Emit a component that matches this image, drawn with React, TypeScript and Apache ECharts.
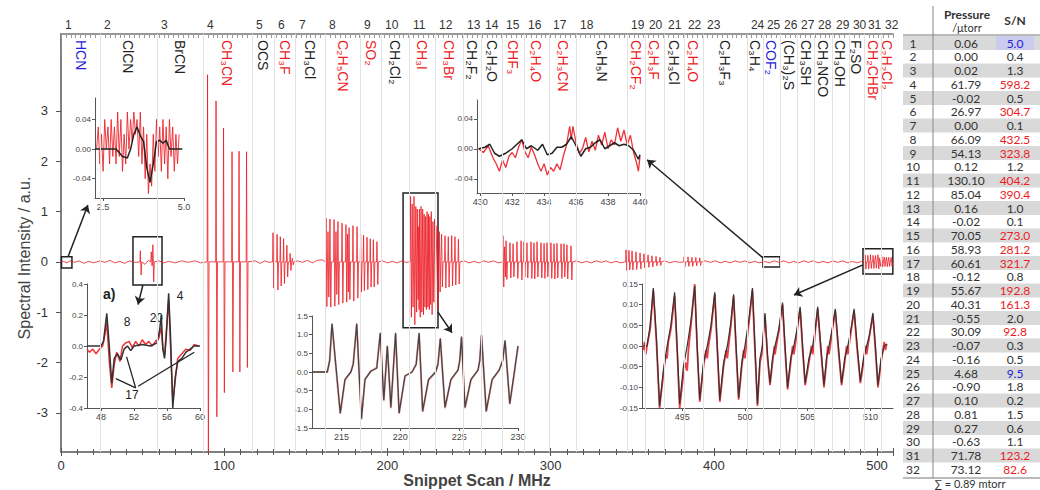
import React, { useEffect, useRef } from 'react';
import * as echarts from 'echarts';

// ---------------- data ----------------
const snippetStarts = [0, 23.9, 58.8, 87.0, 117.0, 130.5, 143.4, 161.8, 183.2, 196.1, 213.2, 229.2, 246.3, 257.4, 270.2, 283.7, 299.0, 315.6, 346.8, 357.8, 369.5, 381.7, 393.4, 420.3, 430.1, 440.6, 451.0, 461.4, 472.4, 482.8, 492.0, 502.5];
const scanEnd = 509.8;
const molecules = ['HCN', 'ClCN', 'BrCN', 'CH₃CN', 'OCS', 'CH₃F', 'CH₃Cl', 'C₂H₅CN', 'SO₂', 'CH₂Cl₂', 'CH₃I', 'CH₃Br', 'CH₂F₂', 'C₂H₂O', 'CHF₃', 'C₂H₄O', 'C₂H₃CN', 'C₅H₅N', 'CH₂CF₂', 'C₂H₃F', 'C₂H₃Cl', 'C₂H₄O', 'C₂H₃F₃', 'C₃H₄', 'COF₂', '(CH₃)₂S', 'CH₃SH', 'CH₃NCO', 'CH₃OH', 'F₂SO', 'CH₂CHBr', 'C₂H₂Cl₂'];
const moleculeClass = ['b', 'k', 'k', 'r', 'k', 'r', 'k', 'r', 'r', 'k', 'r', 'r', 'k', 'k', 'r', 'r', 'r', 'k', 'r', 'r', 'k', 'r', 'k', 'k', 'b', 'k', 'k', 'k', 'k', 'k', 'r', 'r'];
const pressures = ['0.06', '0.00', '0.02', '61.79', '-0.02', '26.97', '0.00', '66.09', '54.13', '0.12', '130.10', '85.04', '0.16', '-0.02', '70.05', '58.93', '60.61', '-0.12', '55.67', '40.31', '-0.55', '30.09', '-0.07', '-0.16', '4.68', '-0.90', '0.10', '0.81', '0.27', '-0.63', '71.78', '73.12'];
const snRatios = ['5.0', '0.4', '1.3', '598.2', '0.5', '304.7', '0.1', '432.5', '323.8', '1.2', '404.2', '390.4', '1.0', '0.1', '273.0', '281.2', '321.7', '0.8', '192.8', '161.3', '2.0', '92.8', '0.3', '0.5', '9.5', '1.8', '0.2', '1.5', '0.6', '1.1', '123.2', '82.6'];
const pressureSum = '∑ = 0.89 mtorr';

const xTicksMain = [0, 100, 200, 300, 400, 500];
const yTicksMain = [-3, -2, -1, 0, 1, 2, 3];

// peaks of the main spectrum: [MHz, positive lobe, negative lobe]
const peaksClCN = [[48.6, 0.22, -0.26], [55.3, 0.2, -0.08], [56.3, 0.34, -0.4]];
const peaksCH3CN = [[89.8, 3.72, -4.2], [95.0, 3.2, -3.08], [99.6, 2.66, -2.6], [104.8, 2.19, -2.19], [109.1, 2.2, -2.19], [113.7, 2.19, -2.1]];
const peaksCH3F = [[129.9, 0.58, -0.52], [132.4, 0.55, -0.56], [134.4, 0.5, -0.48], [136.4, 0.46, -0.43], [138.4, 0.33, -0.3], [140.4, 0.17, -0.17], [141.8, 0.07, -0.06]];
const peaksC2H5CNSO2 = [[162.4, 0.87, -0.89], [163.6, 0.6, -0.7], [164.8, 0.85, -0.9], [167.3, 0.84, -0.88], [168.5, 0.6, -0.65], [169.7, 0.8, -0.85], [172.2, 0.77, -0.82], [174.6, 0.74, -0.8], [175.6, 0.55, -0.6], [176.5, 0.68, -0.75], [178.9, 0.72, -0.78], [181.4, 0.7, -0.72], [183.6, 0.56, -0.6], [185.4, 0.53, -0.57], [187.5, 0.49, -0.55], [189.5, 0.46, -0.5], [191.4, 0.44, -0.5], [193.6, 0.4, -0.45]];
const peaksCH3ICH3Br = [[214.2, 1.3, -1.1], [215.2, 1.15, -0.9], [216.3, 1.3, -1.25], [217.4, 1.1, -1.0], [218.3, 1.05, -0.75], [218.9, 0.7, -0.95], [219.6, 1.05, -1.1], [220.6, 1.1, -1.0], [221.6, 1.05, -1.05], [222.5, 0.95, -0.9], [223.4, 0.9, -0.95], [224.3, 1.0, -0.9], [225.2, 0.95, -0.95], [226.0, 0.9, -0.85], [226.9, 1.0, -1.05], [227.9, 0.8, -0.8], [228.9, 0.85, -0.85], [230.4, 0.72, -0.95], [231.8, 0.6, -0.6], [233.2, 0.55, -0.5], [235.3, 0.52, -0.52], [237.3, 0.5, -0.5], [239.4, 0.52, -0.48], [241.4, 0.5, -0.46], [243.5, 0.45, -0.44]];
const peaks15to17 = [[270.8, 0.52, -0.5], [271.8, 0.3, -0.3], [272.7, 0.42, -0.35], [275.1, 0.38, -0.32], [277.0, 0.36, -0.3], [279.4, 0.4, -0.33], [281.9, 0.42, -0.36], [283.7, 0.4, -0.3], [285.5, 0.38, -0.32], [288.0, 0.4, -0.33], [289.8, 0.38, -0.34], [291.7, 0.4, -0.3], [294.1, 0.38, -0.32], [296.0, 0.37, -0.33], [297.8, 0.38, -0.3], [300.2, 0.38, -0.33], [302.1, 0.36, -0.34], [303.9, 0.37, -0.32], [306.4, 0.36, -0.33], [308.2, 0.36, -0.3], [310.0, 0.34, -0.34], [312.5, 0.32, -0.36]];
const peaks19to22 = [[346.2, 0.24, -0.17], [348.0, 0.23, -0.16], [349.9, 0.22, -0.16], [352.3, 0.2, -0.15], [354.8, 0.18, -0.14], [357.2, 0.16, -0.12], [359.7, 0.14, -0.11], [362.1, 0.12, -0.1], [364.6, 0.11, -0.08], [367.0, 0.09, -0.07], [381.8, 0.1, -0.1], [384.2, 0.1, -0.09], [386.6, 0.09, -0.09], [389.0, 0.09, -0.08], [391.4, 0.08, -0.07]];
const peaks31to32 = [[492.7, 0.14, -0.145], [494.4, 0.13, -0.14], [496.0, 0.145, -0.13], [497.6, 0.13, -0.13], [499.1, 0.125, -0.125], [500.6, 0.14, -0.14], [501.6, 0.08, -0.09], [503.0, 0.105, -0.1], [504.4, 0.095, -0.09], [505.8, 0.095, -0.095], [507.2, 0.09, -0.09], [508.7, 0.09, -0.085]];
const baselineNoise = [[1.5, 0.01], [3.5, -0.02], [5.5, 0.02], [8, -0.01], [11, 0.02], [14, -0.03], [17, 0.01], [20, -0.02], [24, 0.02], [27, -0.01], [30, 0.03], [33, -0.02], [36, 0.01], [39, -0.03], [42, 0.02], [45, -0.01], [51.5, -0.05], [53.5, 0.03], [60, 0.02], [63, -0.02], [66, 0.01], [70, -0.02], [74, 0.02], [78, -0.01], [82, 0.02], [85.5, -0.02], [119, 0.02], [122, -0.03], [125, 0.02], [127.5, -0.01], [145, 0.02], [148, -0.01], [151, 0.03], [154, -0.02], [157, 0.03], [160, 0.04], [197, 0.02], [200, -0.02], [203, 0.01], [206, -0.02], [209, 0.02], [211.5, -0.01], [247, 0.02], [250, -0.02], [253, 0.01], [256, -0.02], [259, 0.02], [262, -0.01], [265, 0.02], [268, -0.02], [316, 0.02], [319, -0.02], [322, 0.01], [325, -0.02], [328, 0.02], [331, -0.01], [334, 0.02], [337, -0.02], [340, 0.01], [343, -0.02], [370, 0.02], [373, -0.02], [376, 0.01], [379, -0.01], [395, 0.02], [398, -0.01], [401, 0.02], [404, -0.02], [407, 0.01], [410, -0.02], [413, 0.02], [416, -0.01], [419, 0.02], [422, -0.02], [425, 0.01], [428, -0.02], [431, 0.01], [434, -0.02], [437, 0.02], [440, -0.01], [443, 0.02], [446, -0.02], [449, 0.01], [452, -0.02], [455, 0.02], [458, -0.01], [461, 0.02], [464, -0.02], [467, 0.01], [470, -0.02], [473, 0.02], [476, -0.01], [479, 0.02], [482, -0.02], [485, 0.01], [488, -0.02], [490.5, 0.01]];

// zoom boxes [x1, y1, x2, y2] and arrows [x1, y1, x2, y2] in main-plot units
const zoomBoxes = [[0.3, 0.1, 6.7, -0.12], [44.1, 0.5, 61.9, -0.46], [209.6, 1.37, 231.0, -1.31], [430.1, 0.1, 440.6, -0.1], [491.4, 0.26, 509.7, -0.24]];
const zoomArrows = [[4.3, 0.1, 16.5, 1.13], [50.2, -0.46, 47.2, -0.85], [231.0, -1.0, 239.6, -1.41], [430.1, 0.08, 359.1, 2.03], [491.4, -0.06, 449.1, -0.66]];

// inset 1: HCN 2.5-5.0 MHz
const hcnRed = [[2.3, 0.0], [2.35, 0.03], [2.4, -0.02], [2.45, 0.02], [2.5, -0.03], [2.55, 0.04], [2.6, 0.0], [2.65, 0.03], [2.7, -0.02], [2.75, 0.04], [2.8, -0.01], [2.85, 0.03], [2.9, -0.02], [2.95, 0.05], [3.0, -0.01], [3.05, 0.04], [3.1, -0.03], [3.15, 0.02], [3.2, -0.02], [3.25, 0.05], [3.3, 0.0], [3.35, 0.04], [3.4, 0.01], [3.45, 0.05], [3.5, 0.02], [3.55, 0.04], [3.6, -0.01], [3.65, 0.05], [3.7, -0.02], [3.75, 0.03], [3.8, -0.04], [3.85, 0.02], [3.9, -0.06], [3.95, -0.02], [4.0, -0.05], [4.05, 0.02], [4.1, -0.03], [4.15, 0.04], [4.2, -0.01], [4.25, 0.03], [4.3, -0.03], [4.35, 0.04], [4.4, -0.02], [4.45, 0.03], [4.5, -0.04], [4.55, 0.04], [4.6, -0.01], [4.65, 0.03], [4.7, -0.03], [4.75, 0.02], [4.8, -0.02], [4.85, 0.02]];
const hcnFit = [[2.25, 0], [2.9, 0], [3.0, -0.005], [3.1, -0.01], [3.25, -0.012], [3.35, 0.0], [3.45, 0.02], [3.55, 0.03], [3.65, 0.018], [3.75, 0.01], [3.85, -0.025], [3.95, -0.045], [4.05, -0.02], [4.15, 0.01], [4.25, 0.012], [4.35, 0.008], [4.45, 0.012], [4.55, 0.0], [4.95, 0.0]];

// inset 2: a) 48-60 MHz
const aRed = [[46.3, -0.02], [46.6, -0.04], [47.0, -0.02], [47.4, -0.05], [47.8, -0.02], [48.2, 0.0], [48.5, 0.08], [48.7, 0.15], [49.0, -0.1], [49.3, -0.27], [49.6, -0.12], [49.9, -0.04], [50.3, -0.1], [50.6, 0.0], [51.0, 0.02], [51.4, 0.03], [51.8, -0.01], [52.2, 0.03], [52.6, 0.0], [53.0, 0.04], [53.4, 0.01], [53.8, 0.03], [54.2, 0.0], [54.6, 0.03], [55.0, 0.05], [55.3, 0.12], [55.5, -0.02], [55.7, -0.06], [56.2, 0.3], [56.7, -0.36], [57.3, -0.08], [57.8, -0.05], [58.3, -0.02], [58.8, -0.03], [59.3, 0.01], [59.8, 0.0]];
const aFit = [[46.3, 0], [48.0, 0], [48.3, 0.03], [48.7, 0.21], [49.0, 0.0], [49.3, -0.24], [49.6, -0.08], [50.0, -0.05], [50.4, -0.09], [50.8, -0.02], [51.2, 0.0], [51.6, -0.03], [52.0, 0.0], [53, 0.01], [54, 0.0], [54.8, 0.02], [55.1, 0.1], [55.3, 0.2], [55.5, -0.02], [55.7, -0.08], [55.9, 0.05], [56.2, 0.34], [56.4, 0.1], [56.7, -0.4], [57.0, -0.2], [57.3, -0.1], [57.8, -0.08], [58.3, -0.04], [58.8, -0.02], [59.3, 0.0], [60, 0.0]];
const aPointers = [[52.2, -0.27, 49.8, -0.21], [52.2, -0.27, 51.1, -0.07], [52.5, -0.26, 59.3, -0.04]];

// inset 3: CH3I 215-230 MHz
const ch3iFit = [[212.5, 0], [213.8, 0], [214.0, 0.3], [214.2, 1.3], [214.55, 0.1], [214.9, -1.1], [215.3, -0.2], [215.8, 0], [216.0, 0.2], [216.3, 1.3], [216.5, 0], [216.7, -1.25], [217.0, -0.2], [217.5, 0.02], [218.0, 0.1], [218.3, 1.05], [218.6, -0.75], [218.9, 0.7], [219.2, -0.95], [219.6, 1.05], [219.9, -1.1], [220.4, -0.1], [221.0, 0.0], [221.35, 0.2], [221.6, 1.05], [221.9, -1.05], [222.4, -0.2], [223.0, 0.0], [223.2, 0.2], [223.4, 0.9], [223.8, -0.95], [224.3, -0.2], [224.9, 0.05], [225.05, 0.3], [225.2, 0.95], [225.5, -0.95], [226.0, -0.2], [226.6, 0.05], [226.75, 0.3], [226.9, 1.0], [227.3, -1.05], [227.8, -0.2], [228.4, 0.05], [228.7, 0.3], [228.9, 0.85], [229.3, -0.85], [229.6, -0.2], [230.0, 0.7]];
const ch3iRed = [[212.5, 0], [213.8, 0], [214.0, 0.32], [214.2, 1.28], [214.55, 0.05], [214.9, -1.12], [215.3, -0.22], [215.8, 0], [216.0, 0.22], [216.3, 1.27], [216.5, -0.05], [216.7, -1.27], [217.0, -0.2], [217.5, 0.03], [218.0, 0.12], [218.3, 1.02], [218.6, -0.78], [218.9, 0.68], [219.2, -0.97], [219.6, 1.02], [219.9, -1.12], [220.4, -0.12], [221.0, 0.0], [221.35, 0.22], [221.6, 1.02], [221.9, -1.07], [222.4, -0.22], [223.0, 0.0], [223.2, 0.22], [223.4, 0.88], [223.8, -0.97], [224.3, -0.22], [224.9, 0.05], [225.05, 0.32], [225.2, 0.92], [225.5, -0.97], [226.0, -0.22], [226.6, 0.05], [226.75, 0.32], [226.9, 0.98], [227.3, -1.07], [227.8, -0.22], [228.4, 0.05], [228.7, 0.32], [228.9, 0.83], [229.3, -0.87], [229.6, -0.22], [230.0, 0.68]];

// inset 4: COF2 430-440 MHz
const cof2Red = [[429.9, 0.0], [430.2, -0.005], [430.5, 0.004], [430.8, -0.012], [431.0, -0.02], [431.2, -0.03], [431.4, -0.015], [431.6, -0.025], [431.8, -0.01], [432.0, -0.005], [432.2, -0.012], [432.4, 0.002], [432.6, 0.012], [432.8, -0.004], [433.0, -0.012], [433.2, 0.002], [433.4, -0.008], [433.6, -0.02], [433.8, -0.03], [434.0, -0.02], [434.2, -0.035], [434.4, -0.025], [434.6, -0.03], [434.8, -0.02], [435.0, -0.028], [435.2, -0.01], [435.4, 0.005], [435.6, 0.03], [435.7, 0.012], [435.8, 0.03], [436.0, 0.008], [436.2, -0.006], [436.4, 0.0], [436.6, 0.015], [436.8, -0.004], [437.0, 0.01], [437.2, -0.002], [437.4, 0.018], [437.6, 0.005], [437.8, 0.022], [438.0, 0.0], [438.2, 0.012], [438.4, 0.005], [438.6, 0.028], [438.8, 0.01], [439.0, 0.025], [439.2, 0.005], [439.4, 0.018], [439.6, -0.005], [439.8, -0.02], [439.9, -0.03], [440.0, -0.01]];
const cof2Fit = [[429.9, 0.0], [430.3, 0.002], [430.6, 0.006], [430.9, -0.006], [431.2, -0.01], [431.6, -0.006], [432.0, 0.0], [432.3, 0.006], [432.6, 0.012], [432.9, 0.0], [433.2, 0.004], [433.6, -0.002], [433.9, 0.006], [434.2, -0.008], [434.5, -0.006], [434.8, 0.002], [435.1, 0.002], [435.4, 0.006], [435.7, 0.016], [436.0, 0.004], [436.3, -0.01], [436.6, 0.0], [436.9, 0.002], [437.2, 0.008], [437.5, 0.012], [437.8, 0.0], [438.1, 0.004], [438.4, 0.008], [438.7, 0.004], [439.0, 0.006], [439.3, 0.004], [439.6, -0.002], [439.9, -0.014], [440.0, -0.008]];

// inset 5: 493-511 MHz
const endFit = [[491.9, 0.0], [492.2, 0.0], [492.45, 0.05], [492.7, 0.14], [492.95, 0.02], [493.2, -0.145], [493.5, -0.06], [493.8, 0.0], [494.1, 0.05], [494.4, 0.13], [494.6, 0.0], [494.8, -0.14], [495.1, -0.05], [495.4, 0.0], [495.7, 0.06], [496.0, 0.145], [496.2, 0.0], [496.4, -0.13], [496.7, -0.04], [497.0, 0.0], [497.3, 0.05], [497.6, 0.13], [497.8, 0.0], [498.0, -0.13], [498.3, -0.04], [498.6, 0.0], [498.85, 0.05], [499.1, 0.125], [499.3, 0.0], [499.5, -0.125], [499.75, -0.04], [500.0, 0.0], [500.3, 0.06], [500.6, 0.14], [500.8, 0.0], [501.0, -0.14], [501.2, -0.03], [501.4, 0.0], [501.6, 0.08], [501.8, -0.02], [502.0, -0.09], [502.2, -0.03], [502.4, 0.0], [502.7, 0.04], [503.0, 0.105], [503.2, 0.0], [503.4, -0.1], [503.65, -0.03], [503.9, 0.0], [504.15, 0.04], [504.4, 0.095], [504.6, 0.0], [504.8, -0.09], [505.1, -0.03], [505.4, 0.0], [505.6, 0.04], [505.8, 0.095], [506.05, 0.0], [506.3, -0.095], [506.5, -0.03], [506.7, 0.0], [506.95, 0.04], [507.2, 0.09], [507.45, 0.0], [507.7, -0.09], [507.95, -0.03], [508.2, 0.0], [508.45, 0.04], [508.7, 0.09], [508.95, 0.0], [509.2, -0.085], [509.45, -0.03], [509.7, 0.0], [509.95, 0.03], [510.2, 0.08], [510.4, 0.0], [510.6, -0.095], [510.85, -0.03], [511.1, 0.0], [511.3, 0.005]];
const endRed = [[491.9, -0.01], [492.0, 0.01], [492.1, -0.02], [492.2, 0.0], [492.45, 0.04], [492.7, 0.135], [492.95, 0.01], [493.2, -0.15], [493.5, -0.07], [493.7, -0.02], [493.8, -0.03], [493.9, 0.01], [494.1, 0.04], [494.4, 0.12], [494.6, -0.01], [494.8, -0.15], [495.1, -0.07], [495.3, -0.04], [495.4, -0.06], [495.5, -0.01], [495.7, 0.05], [496.0, 0.15], [496.2, -0.01], [496.4, -0.135], [496.7, -0.05], [496.9, -0.01], [497.0, -0.03], [497.1, 0.0], [497.3, 0.04], [497.6, 0.125], [497.8, -0.01], [498.0, -0.135], [498.3, -0.05], [498.5, -0.01], [498.6, -0.03], [498.7, 0.0], [498.85, 0.04], [499.1, 0.12], [499.3, -0.01], [499.5, -0.13], [499.75, -0.05], [499.9, -0.01], [500.0, -0.03], [500.1, 0.0], [500.3, 0.05], [500.6, 0.135], [500.8, -0.01], [501.0, -0.145], [501.2, -0.04], [501.35, -0.02], [501.4, 0.0], [501.6, 0.075], [501.8, -0.03], [502.0, -0.095], [502.2, -0.04], [502.35, 0.0], [502.4, -0.02], [502.5, 0.0], [502.7, 0.035], [503.0, 0.1], [503.2, -0.01], [503.4, -0.105], [503.65, -0.04], [503.8, 0.0], [503.9, -0.02], [504.0, 0.0], [504.15, 0.035], [504.4, 0.09], [504.6, -0.01], [504.8, -0.095], [505.1, -0.04], [505.3, 0.0], [505.4, -0.02], [505.5, 0.0], [505.6, 0.035], [505.8, 0.09], [506.05, -0.01], [506.3, -0.1], [506.5, -0.04], [506.6, 0.0], [506.7, -0.02], [506.8, 0.0], [506.95, 0.035], [507.2, 0.085], [507.45, -0.01], [507.7, -0.095], [507.95, -0.04], [508.1, 0.0], [508.2, -0.02], [508.3, 0.0], [508.45, 0.035], [508.7, 0.085], [508.95, -0.01], [509.2, -0.09], [509.45, -0.04], [509.6, 0.0], [509.7, -0.02], [509.8, 0.0], [509.95, 0.03], [510.2, 0.075], [510.4, -0.01], [510.6, -0.1], [510.85, -0.04], [511.0, -0.01], [511.1, 0.01], [511.2, -0.01], [511.3, 0.005]];

// ---------------- styling ----------------
const FONT = '"Liberation Sans", Arial, sans-serif';
const TABLE_FONT = 'Lato, "Liberation Sans", sans-serif';
const RED = '#ec1c24';
const BLUE = '#2222d6';
const INK = '#222';
const classColor: Record<string, string> = { r: RED, k: '#333', b: BLUE };

function buildSpectrum() {
  const pts: number[][] = [[0, 0], [scanEnd, 0]];
  const groups = [peaksClCN, peaksCH3CN, peaksCH3F, peaksC2H5CNSO2, peaksCH3ICH3Br, peaks15to17, peaks19to22, peaks31to32];
  for (const g of groups) {
    for (const [x, top, bot] of g) {
      pts.push([x - 0.25, 0], [x, top], [x + 0.5, bot], [x + 0.9, 0]);
    }
  }
  for (const p of baselineNoise) pts.push(p);
  pts.sort((a, b) => a[0] - b[0]);
  return pts;
}

function insetX(gridIndex: number, min: number, max: number, ticks: number[], digits: number) {
  return {
    type: 'value', gridIndex, min, max,
    axisLine: { show: true, onZero: false, lineStyle: { color: '#555', width: 1 } },
    axisTick: { show: true, customValues: ticks, length: 3, lineStyle: { color: '#555' } },
    axisLabel: { show: true, customValues: ticks, formatter: (v: number) => v.toFixed(digits), fontSize: 9, color: '#444', margin: 4, fontFamily: FONT },
    splitLine: { show: false },
  };
}
function insetY(gridIndex: number, min: number, max: number, ticks: number[], digits: number) {
  return {
    type: 'value', gridIndex, min, max,
    axisLine: { show: true, onZero: false, lineStyle: { color: '#555', width: 1 } },
    axisTick: { show: true, customValues: ticks, length: 3, lineStyle: { color: '#555' } },
    axisLabel: { show: true, customValues: ticks, formatter: (v: number) => v.toFixed(digits), fontSize: 8, color: '#444', margin: 4, fontFamily: FONT },
    splitLine: { show: false },
  };
}
function line(name: string, data: number[][], xi: number, yi: number, color: string, width: number, z: number, opacity = 1) {
  return {
    name, type: 'line', data, xAxisIndex: xi, yAxisIndex: yi, showSymbol: false, symbol: 'none', z,
    lineStyle: { color, width, opacity }, silent: true, animation: false,
  };
}

function buildOption() {
  const centers = snippetStarts.map((s, i) => (s + (i + 1 < snippetStarts.length ? snippetStarts[i + 1] : scanEnd)) / 2);
  const rowY = (i: number) => 43 + i * 13.75;
  const graphics: any[] = [];
  // table
  snippetStarts.forEach((_, i) => {
    if (i % 2 === 0) graphics.push({ type: 'rect', shape: { x: 903, y: rowY(i) - 6.9, width: 137, height: 13.8 }, style: { fill: '#d9d9d9' }, silent: true });
  });
  graphics.push({ type: 'rect', shape: { x: 996, y: rowY(0) - 6.9, width: 38, height: 13.8 }, style: { fill: '#cbcbee' }, silent: true });
  graphics.push({ type: 'line', shape: { x1: 933, y1: 6, x2: 933, y2: 478 }, style: { stroke: '#888', lineWidth: 1 }, silent: true });
  graphics.push({ type: 'line', shape: { x1: 903, y1: 35, x2: 1040, y2: 35 }, style: { stroke: '#777', lineWidth: 1 }, silent: true });
  graphics.push({ type: 'line', shape: { x1: 903, y1: 478, x2: 1040, y2: 478 }, style: { stroke: '#777', lineWidth: 1 }, silent: true });
  graphics.push({ type: 'text', x: 967, y: 14, style: { text: 'Pressure', fill: '#333', font: `bold 12px ${TABLE_FONT}`, align: 'center', verticalAlign: 'middle' }, silent: true });
  graphics.push({ type: 'text', x: 967, y: 27, style: { text: '/μtorr', fill: '#333', font: `11px ${TABLE_FONT}`, align: 'center', verticalAlign: 'middle' }, silent: true });
  graphics.push({ type: 'text', x: 1015, y: 20, style: { text: 'S/N', fill: '#333', font: `bold 12px ${TABLE_FONT}`, align: 'center', verticalAlign: 'middle' }, silent: true });
  snippetStarts.forEach((_, i) => {
    const y = rowY(i);
    graphics.push({ type: 'text', x: 913, y, style: { text: String(i + 1), fill: '#333', font: `12px ${TABLE_FONT}`, align: 'center', verticalAlign: 'middle' }, silent: true });
    graphics.push({ type: 'text', x: 966, y, style: { text: pressures[i], fill: '#333', font: `12px ${TABLE_FONT}`, align: 'center', verticalAlign: 'middle' }, silent: true });
    graphics.push({ type: 'text', x: 1015, y, style: { text: snRatios[i], fill: classColor[moleculeClass[i]], font: `12px ${TABLE_FONT}`, align: 'center', verticalAlign: 'middle' }, silent: true });
  });
  graphics.push({ type: 'text', x: 970, y: 483.5, style: { text: pressureSum, fill: '#333', font: `11px ${TABLE_FONT}`, align: 'center', verticalAlign: 'middle' }, silent: true });
  // y-axis title
  graphics.push({ type: 'text', x: 24, y: 258, rotation: Math.PI / 2, style: { text: 'Spectral Intensity / a.u.', fill: '#444', font: `16px ${FONT}`, align: 'center', verticalAlign: 'middle' }, silent: true });
  // inset a) annotations
  graphics.push({ type: 'text', x: 103, y: 294, style: { text: 'a)', fill: INK, font: `bold 14px ${FONT}`, align: 'left', verticalAlign: 'middle' }, silent: true });
  graphics.push({ type: 'text', x: 127, y: 322, style: { text: '8', fill: INK, font: `12px ${FONT}`, align: 'center', verticalAlign: 'middle' }, silent: true });
  graphics.push({ type: 'text', x: 163, y: 318, style: { text: '20', fill: INK, font: `12px ${FONT}`, align: 'right', verticalAlign: 'middle' }, silent: true });
  graphics.push({ type: 'text', x: 180, y: 296, style: { text: '4', fill: INK, font: `12px ${FONT}`, align: 'center', verticalAlign: 'middle' }, silent: true });
  graphics.push({ type: 'text', x: 132, y: 395, style: { text: '17', fill: INK, font: `12px ${FONT}`, align: 'center', verticalAlign: 'middle' }, silent: true });

  const grids = [
    { left: 61, top: 34, width: 832, height: 418 },
    { left: 95, top: 98, width: 89, height: 100 },
    { left: 87, top: 284, width: 113, height: 124 },
    { left: 312, top: 316, width: 206, height: 112 },
    { left: 477, top: 100, width: 163, height: 93 },
    { left: 642, top: 284, width: 251, height: 124 },
  ].map((g) => ({ ...g, containLabel: false, outerBoundsMode: 'none' }));

  const richStyles: any = {
    r: { color: RED, fontSize: 14, fontFamily: FONT },
    k: { color: INK, fontSize: 14, fontFamily: FONT },
    b: { color: BLUE, fontSize: 14, fontFamily: FONT },
  };

  const xAxis: any[] = [
    {
      type: 'value', gridIndex: 0, min: 0, max: scanEnd, interval: 100,
      axisLine: { show: true, onZero: false, lineStyle: { color: '#555', width: 1.5 } },
      axisTick: { show: true, length: 4, lineStyle: { color: '#555' } },
      minorTick: { show: true, splitNumber: 10, length: 3, lineStyle: { color: '#555' } },
      axisLabel: { fontSize: 13, color: '#333', margin: 7, fontFamily: FONT, customValues: xTicksMain },
      splitLine: { show: false },
      name: 'Snippet Scan / MHz', nameLocation: 'middle', nameGap: 20, nameMoveOverlap: false,
      nameTextStyle: { fontSize: 16, fontWeight: 'bold', color: '#444', fontFamily: FONT },
    },
    {
      type: 'value', gridIndex: 0, position: 'top', min: 0, max: scanEnd,
      axisLine: { show: true, onZero: false, lineStyle: { color: '#777', width: 1.5 } },
      axisTick: { show: true, inside: true, customValues: snippetStarts, length: 20, lineStyle: { color: '#888', width: 1 } },
      axisLabel: { show: true, customValues: snippetStarts, align: 'left', padding: [0, 0, 0, 4], margin: 3, fontSize: 12, color: '#333', fontFamily: FONT,
        formatter: (v: number) => String(snippetStarts.findIndex((s) => Math.abs(s - v) < 1e-6) + 1) },
      splitLine: { show: false },
    },
    {
      type: 'value', gridIndex: 0, position: 'top', min: 0, max: scanEnd,
      axisLine: { show: false, onZero: false },
      axisTick: { show: false },
      axisLabel: { show: true, inside: true, rotate: 90, margin: 6, customValues: centers, rich: richStyles, fontSize: 14,
        formatter: (v: number) => {
          const i = centers.findIndex((c) => Math.abs(c - v) < 1e-6);
          return i < 0 ? '' : `{${moleculeClass[i]}|${molecules[i]}}`;
        } },
      splitLine: { show: false },
    },
    {
      type: 'value', gridIndex: 0, position: 'top', min: 0, max: scanEnd, interval: 3,
      axisLine: { show: false, onZero: false },
      axisTick: { show: true, inside: true, length: 4, lineStyle: { color: '#999' } },
      axisLabel: { show: false },
      splitLine: { show: false },
    },
    {
      type: 'value', gridIndex: 0, position: 'bottom', min: 0, max: scanEnd, interval: 100,
      axisLine: { show: false, onZero: false },
      axisTick: { show: true, inside: true, length: 4, lineStyle: { color: '#555' } },
      minorTick: { show: true, splitNumber: 10, length: 3, lineStyle: { color: '#555' } },
      axisLabel: { show: false },
      splitLine: { show: false },
    },
    insetX(1, 2.25, 5.0, [2.5, 5.0], 1),
    insetX(2, 46.3, 60, [48, 52, 56, 60], 0),
    insetX(3, 212.5, 230, [215, 220, 225, 230], 0),
    insetX(4, 429.8, 440, [430, 432, 434, 436, 438, 440], 0),
    insetX(5, 491.8, 511.8, [495, 500, 505, 510], 0),
  ];

  const yAxis: any[] = [
    {
      type: 'value', gridIndex: 0, min: -3.78, max: 4.53,
      axisLine: { show: true, onZero: false, lineStyle: { color: '#555', width: 1.5 } },
      axisTick: { show: true, customValues: yTicksMain, length: 5, lineStyle: { color: '#555' } },
      axisLabel: { customValues: yTicksMain, fontSize: 13, color: '#333', margin: 13, fontFamily: FONT },
      splitLine: { show: false },
    },
    insetY(1, -0.066, 0.069, [-0.04, 0, 0.04], 2),
    insetY(2, -0.4, 0.4, [-0.4, -0.2, 0, 0.2, 0.4], 1),
    insetY(3, -1.5, 1.5, [-1.5, -1.0, -0.5, 0, 0.5, 1.0, 1.5], 1),
    insetY(4, -0.059, 0.065, [-0.04, 0, 0.04], 2),
    insetY(5, -0.15, 0.15, [-0.15, -0.1, -0.05, 0, 0.05, 0.1, 0.15], 2),
  ];

  const series: any[] = [
    {
      name: 'snippet borders', type: 'line', data: [[0, 0]], xAxisIndex: 0, yAxisIndex: 0, showSymbol: false, symbol: 'none',
      lineStyle: { opacity: 0 }, z: 1, silent: true,
      markLine: {
        silent: true, symbol: ['none', 'none'], label: { show: false }, animation: false,
        lineStyle: { color: '#e2e2e2', width: 1, type: 'solid' },
        data: snippetStarts.slice(1).map((x) => ({ xAxis: x })),
      },
    },
    {
      ...line('spectrum', buildSpectrum(), 0, 0, RED, 1, 2, 0.8),
      markArea: {
        silent: true, animation: false,
        itemStyle: { color: 'rgba(0,0,0,0)', borderColor: INK, borderWidth: 1.5 },
        data: zoomBoxes.map(([x1, y1, x2, y2]) => [{ xAxis: x1, yAxis: y1 }, { xAxis: x2, yAxis: y2 }]),
      },
      markLine: {
        silent: true, animation: false, symbol: ['none', 'arrow'], symbolSize: 8, label: { show: false },
        lineStyle: { color: INK, width: 1.5, type: 'solid' },
        data: zoomArrows.map(([x1, y1, x2, y2]) => [{ coord: [x1, y1] }, { coord: [x2, y2] }]),
      },
    },
    line('HCN data', hcnRed, 5, 1, RED, 1, 3, 0.85),
    line('HCN fit', hcnFit, 5, 1, INK, 1.5, 4),
    line('a) data', aRed, 6, 2, RED, 1.5, 3, 0.9),
    {
      ...line('a) fit', aFit, 6, 2, '#333', 1.5, 4),
      markLine: {
        silent: true, animation: false, symbol: ['none', 'none'], label: { show: false },
        lineStyle: { color: INK, width: 1.3, type: 'solid' },
        data: aPointers.map(([x1, y1, x2, y2]) => [{ coord: [x1, y1] }, { coord: [x2, y2] }]),
      },
    },
    line('CH3I data', ch3iRed, 7, 3, RED, 2, 3, 0.4),
    line('CH3I fit', ch3iFit, 7, 3, '#444', 1.3, 4),
    line('COF2 data', cof2Red, 8, 4, RED, 1.3, 3, 0.9),
    line('COF2 fit', cof2Fit, 8, 4, INK, 1.5, 4),
    line('end data', endRed, 9, 5, RED, 1.8, 3, 0.85),
    line('end fit', endFit, 9, 5, '#333', 1.2, 4),
  ];

  return {
    animation: false,
    backgroundColor: '#fff',
    textStyle: { fontFamily: FONT },
    grid: grids,
    xAxis,
    yAxis,
    series,
    graphic: graphics,
  };
}

export default function App() {
  const ref = useRef<HTMLDivElement>(null);
  useEffect(() => {
    const chart = echarts.init(ref.current as HTMLDivElement, undefined, { renderer: 'svg' });
    chart.setOption(buildOption() as any);
    return () => chart.dispose();
  }, []);
  return <div ref={ref} style={{ position: 'fixed', left: 0, top: 0, width: 1040, height: 490, background: '#fff' }} />;
}
